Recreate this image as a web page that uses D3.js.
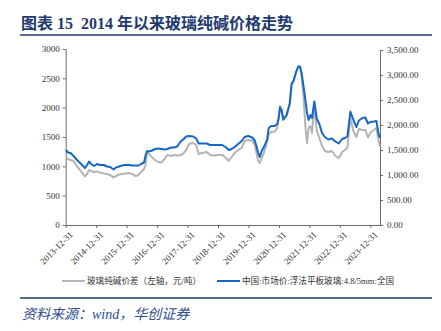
<!DOCTYPE html>
<html>
<head>
<meta charset="utf-8">
<script src="https://cdn.jsdelivr.net/npm/d3@7"></script>
<style>
  html, body { margin: 0; padding: 0; background: #fff; }
  svg { display: block; }
</style>
</head>
<body>
<svg id="chart" width="441" height="331"></svg>
<script>
// Observation dates shared by both series
const dates = [
  "2014-01-04","2014-01-28","2014-02-27","2014-04-04","2014-05-16","2014-06-21","2014-07-15","2014-08-20",
  "2014-09-13","2014-10-07","2014-10-31","2014-12-06","2015-01-11","2015-02-16","2015-04-04","2015-05-10",
  "2015-06-16","2015-07-28","2015-08-27","2015-10-02","2015-11-07","2015-12-13","2016-01-30","2016-03-06",
  "2016-04-17","2016-05-23","2016-06-22","2016-07-28","2016-08-15","2016-09-02","2016-09-26","2016-11-01",
  "2016-12-07","2017-01-12","2017-02-23","2017-04-07","2017-05-01","2017-06-18","2017-07-24","2017-08-29",
  "2017-10-04","2017-11-08","2017-12-14","2018-01-19","2018-03-08","2018-04-13","2018-05-13","2018-06-24",
  "2018-08-17","2018-09-28","2018-11-15","2019-01-02","2019-02-19","2019-04-08","2019-05-08","2019-06-13",
  "2019-07-19","2019-08-30","2019-10-11","2019-11-16","2019-12-28","2020-02-14","2020-03-15","2020-04-08",
  "2020-04-26","2020-05-14","2020-06-07","2020-07-07","2020-08-12","2020-08-30","2020-09-29","2020-11-10",
  "2020-12-10","2020-12-28","2021-01-12","2021-01-31","2021-02-21","2021-04-01","2021-05-09","2021-05-31",
  "2021-06-26","2021-07-26","2021-08-19","2021-09-09","2021-09-28","2021-10-24","2021-11-11","2021-12-02",
  "2021-12-21","2022-01-11","2022-01-31","2022-02-28","2022-03-30","2022-04-29","2022-05-31","2022-07-04",
  "2022-08-15","2022-09-26","2022-11-07","2022-12-17","2023-01-27","2023-03-01","2023-03-31","2023-05-06",
  "2023-06-11","2023-07-17","2023-08-16","2023-09-27","2023-11-02","2023-12-02","2024-01-01","2024-02-12",
  "2024-03-13","2024-04-06","2024-04-24"
];

// Glass–soda ash spread, yuan/ton (left axis)
const spread = [
  1151,1125,1108,1091,997,938,887,827,
  870,938,921,904,912,895,878,870,
  853,810,835,861,870,878,887,870,
  835,853,904,955,1023,1228,1211,1151,
  1108,1074,1066,1142,1194,1176,1194,1185,
  1194,1211,1279,1381,1398,1364,1211,1228,
  1245,1194,1185,1194,1194,1142,1091,1159,
  1228,1279,1313,1432,1449,1432,1364,1211,
  1091,1057,1142,1245,1415,1551,1586,1594,
  1654,1841,2029,1961,1790,1858,2063,2387,
  2455,2609,2702,2694,2540,2131,1705,1398,
  1654,1688,1569,2020,1603,1483,1347,1262,
  1245,1262,1176,1142,1245,1279,1313,1824,
  1603,1500,1637,1620,1620,1492,1577,1620,
  1654,1449,1336
];

// China market price: float flat glass 4.8/5mm, national (right axis)
const glassPrice = [
  1500,1450,1440,1380,1300,1240,1200,1140,
  1200,1270,1220,1180,1220,1200,1200,1170,
  1160,1110,1150,1170,1190,1200,1200,1190,
  1190,1190,1220,1250,1400,1480,1470,1490,
  1520,1530,1520,1510,1520,1550,1550,1570,
  1660,1710,1770,1780,1770,1730,1630,1630,
  1630,1600,1600,1600,1600,1550,1500,1520,
  1560,1620,1680,1760,1780,1750,1690,1560,
  1440,1360,1480,1570,1720,1940,1980,1980,
  2020,2140,2350,2300,2110,2200,2430,2820,
  2900,3070,3170,3170,3040,2740,2520,2240,
  2100,2200,2140,2470,2120,2020,1840,1760,
  1710,1730,1670,1630,1720,1740,1770,2270,
  2100,1960,2090,2140,2150,2030,2060,2070,
  2080,1840,1740
];

const xTicks = ["2013-12-31","2014-12-31","2015-12-31","2016-12-31","2017-12-31","2018-12-31",
                "2019-12-31","2020-12-31","2021-12-31","2022-12-31","2023-12-31"];
const leftTicks = [0,500,1000,1500,2000,2500,3000];
const rightTicks = [0,500,1000,1500,2000,2500,3000,3500];

const titleText = "图表 15  2014 年以来玻璃纯碱价格走势";
const legendNames = ["玻璃纯碱价差（左轴，元/吨）", "中国:市场价:浮法平板玻璃:4.8/5mm:全国"];
const sourceText = "资料来源：wind，华创证券";

const parse = d3.timeParse("%Y-%m-%d");
const navy = "#1F3A6E";
const axisColor = "#6b6b6b";
const grayLine = "#b4b4b4";
const blueLine = "#1468C4";
const serif = "'Liberation Serif','Times New Roman',serif";
const cjk = "'Noto Sans CJK SC','Noto Sans',sans-serif";

const svg = d3.select("#chart");

const plot = { left: 65.7, right: 380, top: 49.5, bottom: 225 };

const x = d3.scaleTime()
  .domain([parse("2013-12-31"), parse("2024-04-25")])
  .range([plot.left, plot.right]);
const yL = d3.scaleLinear().domain([0, 3000]).range([plot.bottom, 49]);
const yR = d3.scaleLinear().domain([0, 3500]).range([plot.bottom, 50]);

// Header
svg.append("text")
  .attr("x", 21).attr("y", 29)
  .attr("fill", navy)
  .attr("font-family", "'Liberation Serif'," + cjk)
  .attr("font-weight", "bold")
  .attr("font-size", 16)
  .attr("xml:space", "preserve")
  .text(titleText);
svg.append("line")
  .attr("x1", 20).attr("x2", 432).attr("y1", 35).attr("y2", 35)
  .attr("stroke", navy).attr("stroke-width", 1.5);

// Axes
function styleAxis(g) {
  g.selectAll("path.domain").attr("stroke", axisColor).attr("stroke-width", 1);
  g.selectAll(".tick line").attr("stroke", axisColor);
  g.selectAll(".tick text").attr("fill", "#333").attr("font-family", serif).attr("font-size", 9);
}

const gL = svg.append("g")
  .attr("transform", `translate(${plot.left},0)`)
  .call(d3.axisLeft(yL).tickValues(leftTicks).tickSize(3).tickSizeOuter(0).tickPadding(3).tickFormat(d3.format("d")));
styleAxis(gL);

const gR = svg.append("g")
  .attr("transform", `translate(${plot.right},0)`)
  .call(d3.axisRight(yR).tickValues(rightTicks).tickSize(3).tickSizeOuter(0).tickPadding(4).tickFormat(d3.format(",.2f")));
styleAxis(gR);

const gX = svg.append("g")
  .attr("transform", `translate(0,${plot.bottom})`)
  .call(d3.axisBottom(x).tickValues(xTicks.map(parse)).tickSize(3).tickSizeOuter(0).tickFormat(d3.timeFormat("%Y-%m-%d")));
styleAxis(gX);
gX.selectAll(".tick text")
  .attr("text-anchor", "end")
  .attr("dx", 0).attr("dy", 0)
  .attr("transform", "translate(3,6) rotate(-45)");

// Series
const rows = dates.map((d, i) => ({ date: parse(d), spread: spread[i], glass: glassPrice[i] }));

svg.append("path")
  .datum(rows)
  .attr("fill", "none")
  .attr("stroke", grayLine)
  .attr("stroke-width", 2)
  .attr("stroke-linejoin", "round")
  .attr("d", d3.line().x(d => x(d.date)).y(d => yL(d.spread)));

svg.append("path")
  .datum(rows)
  .attr("fill", "none")
  .attr("stroke", blueLine)
  .attr("stroke-width", 2)
  .attr("stroke-linejoin", "round")
  .attr("d", d3.line().x(d => x(d.date)).y(d => yR(d.glass)));

// Legend
const legend = svg.append("g").attr("transform", "translate(0,281)");
const items = [
  { name: legendNames[0], color: grayLine, x0: 62 },
  { name: legendNames[1], color: blueLine, x0: 217 }
];
items.forEach(it => {
  legend.append("line")
    .attr("x1", it.x0).attr("x2", it.x0 + 23).attr("y1", 0).attr("y2", 0)
    .attr("stroke", it.color).attr("stroke-width", 2);
  legend.append("text")
    .attr("x", it.x0 + 25).attr("y", 3.2)
    .attr("fill", "#333")
    .attr("font-family", "'Liberation Serif'," + cjk)
    .attr("font-size", 8.6)
    .text(it.name);
});

// Footer
svg.append("line")
  .attr("x1", 20).attr("x2", 432).attr("y1", 298).attr("y2", 298)
  .attr("stroke", navy).attr("stroke-width", 1.5);
svg.append("text")
  .attr("x", 22).attr("y", 319)
  .attr("fill", "#2E4E8F")
  .attr("font-family", "'Liberation Serif'," + cjk)
  .attr("font-style", "italic")
  .attr("font-size", 14)
  .text(sourceText);
</script>
</body>
</html>
